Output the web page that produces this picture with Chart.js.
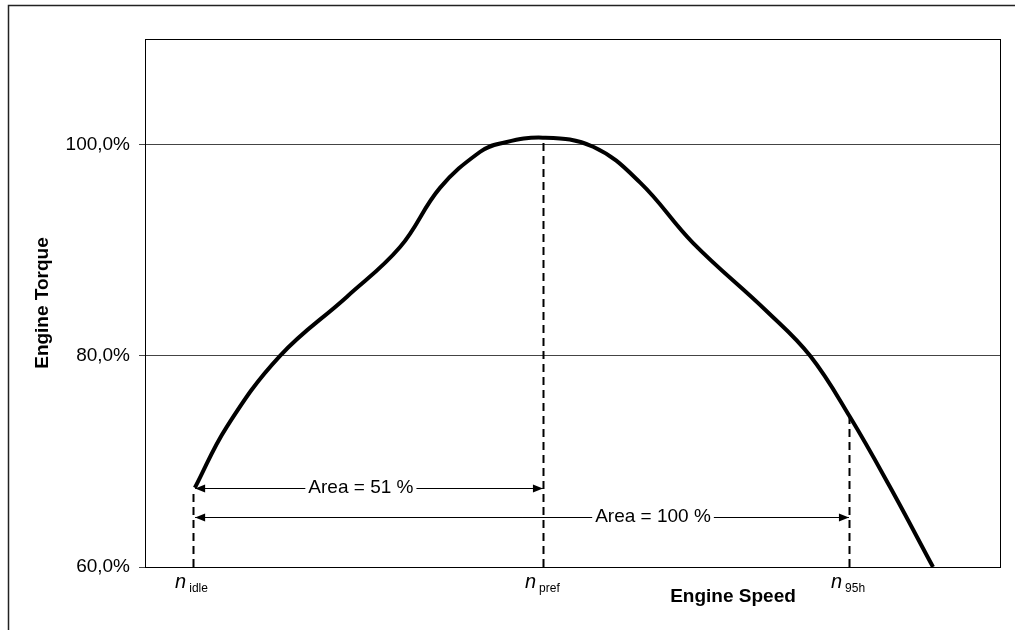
<!DOCTYPE html>
<html>
<head>
<meta charset="utf-8">
<script src="https://cdn.jsdelivr.net/npm/chart.js@4/dist/chart.umd.min.js"></script>
<style>
  html, body { margin: 0; padding: 0; background: #fff; }
  #wrap { width: 1015px; height: 630px; }
</style>
</head>
<body>
<div id="wrap"><canvas id="torqueChart" width="1015" height="630"></canvas></div>
<script>
// ========================
// Data
// ========================
const speedRpm = [640, 730, 879, 1067, 1216, 1328, 1440, 1497, 1617, 1758, 1890, 2038, 2246, 2367, 2479, 2591, 2712];
const torquePct = [67.5, 73.3, 80.0, 85.6, 90.3, 95.9, 99.3, 100.1, 100.66, 99.8, 96.4, 90.7, 84.2, 80.0, 74.2, 67.6, 60.0];

const yTicks = [60, 80, 100];

const markerNames = ["idle", "pref", "95h"];
const markerSpeed = [635, 1617, 2476];

const areaLabels = ["Area = 51 %", "Area = 100 %"];
const areaFrom = [635, 635];
const areaTo = [1617, 2476];
const areaLevel = [67.5, 64.7];

// ========================
// Helpers
// ========================
const FONT = "'Liberation Sans', Arial, sans-serif";

// torque on the curve at a given speed (straight between read points)
function torqueAt(rpm) {
  for (let i = 1; i < speedRpm.length; i++) {
    if (rpm <= speedRpm[i]) {
      const t = (rpm - speedRpm[i - 1]) / (speedRpm[i] - speedRpm[i - 1]);
      return torquePct[i - 1] + t * (torquePct[i] - torquePct[i - 1]);
    }
  }
  return torquePct[torquePct.length - 1];
}

function arrowHead(ctx, x, y, dir) {
  ctx.beginPath();
  ctx.moveTo(x, y);
  ctx.lineTo(x - dir * 10, y - 4);
  ctx.lineTo(x - dir * 10, y + 4);
  ctx.closePath();
  ctx.fill();
}

// ========================
// Plugin: frames, markers, arrows, labels
// ========================
const annotations = {
  id: "annotations",
  beforeDraw(chart) {
    const ctx = chart.ctx;
    ctx.save();
    ctx.fillStyle = "#fff";
    ctx.fillRect(0, 0, chart.width, chart.height);
    ctx.strokeStyle = "#222";
    ctx.lineWidth = 1.5;
    ctx.strokeRect(8.5, 5.5, chart.width + 50, chart.height + 50);
    ctx.restore();
  },
  afterDatasetsDraw(chart) {
    const ctx = chart.ctx;
    const xs = chart.scales.x, ys = chart.scales.y;
    const area = chart.chartArea;
    ctx.save();

    // plot frame
    ctx.strokeStyle = "#000";
    ctx.lineWidth = 1;
    ctx.strokeRect(Math.round(area.left) + 0.5, Math.round(area.top) + 0.5,
      Math.round(area.right - area.left), Math.round(area.bottom - area.top));

    // dashed marker lines
    ctx.setLineDash([8, 5]);
    ctx.lineWidth = 2;
    markerSpeed.forEach(s => {
      const x = Math.round(xs.getPixelForValue(s)) + 0.5;
      ctx.beginPath();
      ctx.moveTo(x, area.bottom);
      ctx.lineTo(x, ys.getPixelForValue(Math.min(torqueAt(s), 100.66)));
      ctx.stroke();
    });
    ctx.setLineDash([]);

    // area arrows
    const textAt = [1106, 1926];
    ctx.font = "19px " + FONT;
    ctx.textAlign = "center";
    ctx.textBaseline = "middle";
    ctx.fillStyle = "#000";
    ctx.lineWidth = 1;
    areaLabels.forEach((lab, i) => {
      const y = Math.round(ys.getPixelForValue(areaLevel[i])) + 0.5;
      const x1 = xs.getPixelForValue(areaFrom[i]) + 2;
      const x2 = xs.getPixelForValue(areaTo[i]);
      ctx.beginPath();
      ctx.moveTo(x1, y);
      ctx.lineTo(x2, y);
      ctx.stroke();
      arrowHead(ctx, x1, y, -1);
      arrowHead(ctx, x2, y, 1);
      const tx = xs.getPixelForValue(textAt[i]);
      const w = ctx.measureText(lab).width;
      ctx.fillStyle = "#fff";
      ctx.fillRect(tx - w / 2 - 3, y - 10, w + 6, 20);
      ctx.fillStyle = "#000";
      ctx.fillText(lab, tx, y - 1);
    });

    // speed marker labels: italic n + subscript
    ctx.textAlign = "left";
    ctx.textBaseline = "alphabetic";
    markerNames.forEach((name, i) => {
      const x = xs.getPixelForValue(markerSpeed[i]) - 18;
      ctx.font = "italic 20px " + FONT;
      ctx.fillText("n", x, 588);
      const nw = ctx.measureText("n").width;
      ctx.font = "12px " + FONT;
      ctx.fillText(name, x + nw + 3, 592);
    });

    // axis titles
    ctx.font = "bold 19px " + FONT;
    ctx.textAlign = "center";
    ctx.textBaseline = "middle";
    ctx.fillText("Engine Speed", 733, 597);
    ctx.translate(43, (area.top + area.bottom) / 2);
    ctx.rotate(-Math.PI / 2);
    ctx.fillText("Engine Torque", 0, 0);

    ctx.restore();
  }
};

// ========================
// Chart
// ========================
const chartCtx = document.getElementById("torqueChart").getContext("2d");
new Chart(chartCtx, {
  type: "line",
  data: {
    datasets: [{
      data: speedRpm.map((s, i) => ({ x: s, y: torquePct[i] })),
      borderColor: "#000",
      borderWidth: 4,
      pointRadius: 0,
      tension: 0.4,
      borderJoinStyle: "round",
      fill: false
    }]
  },
  options: {
    responsive: false,
    animation: false,
    devicePixelRatio: 1,
    layout: { padding: { left: 0, top: 39, right: 15, bottom: 63 } },
    plugins: {
      legend: { display: false },
      tooltip: { enabled: false }
    },
    scales: {
      x: {
        type: "linear",
        min: 500,
        max: 2900,
        display: false
      },
      y: {
        min: 60,
        max: 110,
        afterBuildTicks: scale => { scale.ticks = yTicks.map(v => ({ value: v })); },
        afterFit: scale => { scale.width = 145; },
        border: { display: true, color: "#000", width: 1 },
        grid: {
          color: "#444",
          lineWidth: 1,
          tickLength: 6,
          drawTicks: true
        },
        ticks: {
          padding: 9,
          color: "#000",
          font: { family: FONT, size: 19 },
          callback: v => v.toFixed(1).replace(".", ",") + "%"
        }
      }
    }
  },
  plugins: [annotations]
});
</script>
</body>
</html>
